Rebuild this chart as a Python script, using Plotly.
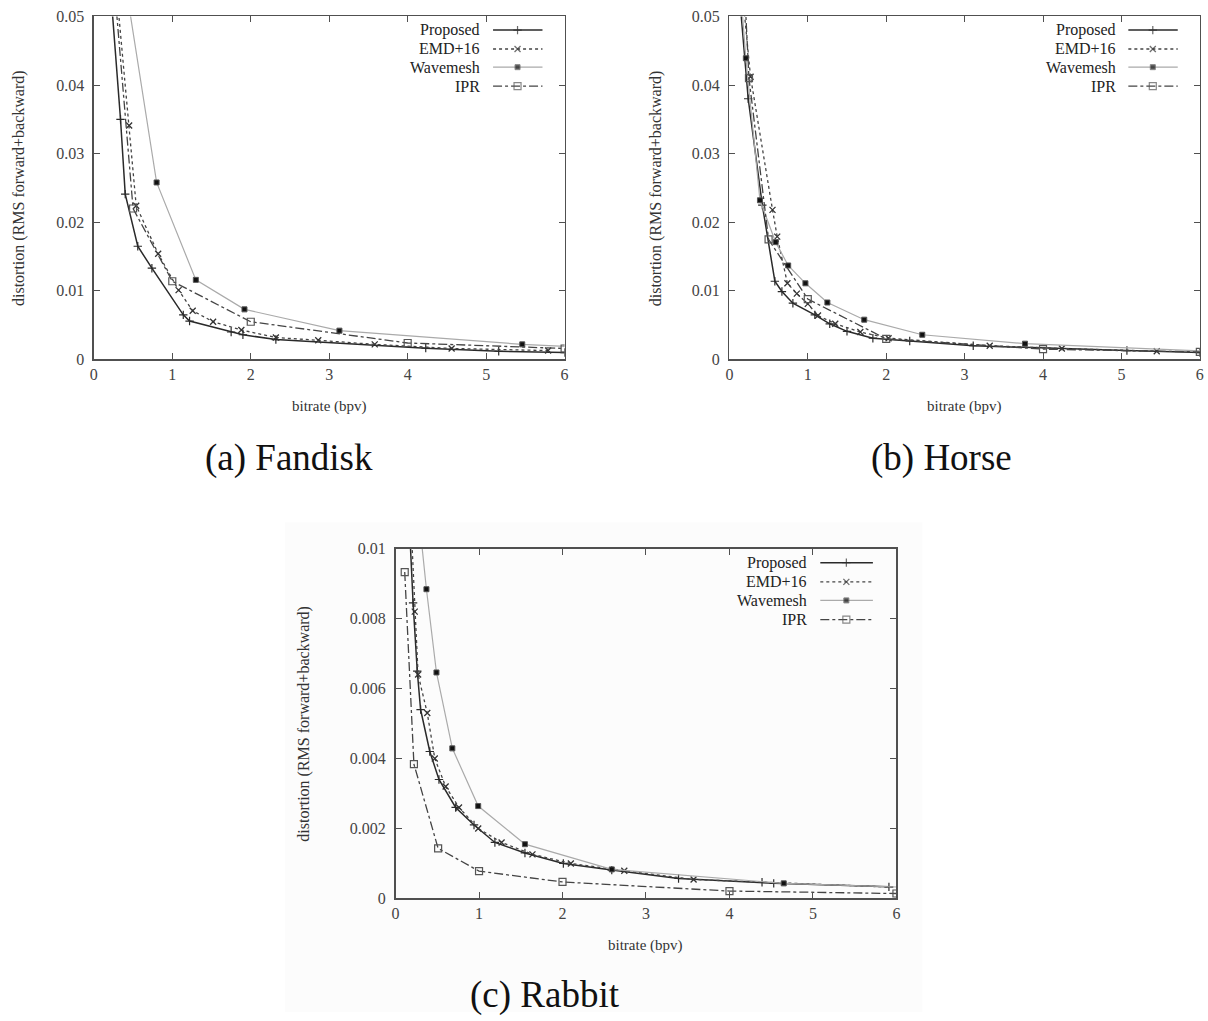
import plotly.graph_objects as go

W, H = 1208, 1021

# ---------------- data ----------------
series_names = ["Proposed", "EMD+16", "Wavemesh", "IPR"]
x_ticks = [0, 1, 2, 3, 4, 5, 6]

# (a) Fandisk
fan_prop_x = [0.14, 0.34, 0.40, 0.56, 0.74, 1.14, 1.22, 1.75, 1.90, 2.32, 4.23, 5.16, 6.0]
fan_prop_y = [0.065, 0.035, 0.0241, 0.0165, 0.0133, 0.0065, 0.0056, 0.0040, 0.0036, 0.0029, 0.00165, 0.0012, 0.0010]
fan_emd_x = [0.28, 0.45, 0.54, 0.82, 1.08, 1.26, 1.52, 1.88, 2.32, 2.86, 3.58, 4.56, 5.79]
fan_emd_y = [0.055, 0.0341, 0.0224, 0.0154, 0.0101, 0.0071, 0.0055, 0.0043, 0.0032, 0.0028, 0.0022, 0.0016, 0.0013]
fan_wave_x = [0.40, 0.80, 1.30, 1.92, 3.13, 5.46, 7.0]
fan_wave_y = [0.055, 0.0258, 0.0116, 0.0073, 0.0042, 0.0022, 0.0014]
fan_ipr_x = [0.25, 0.50, 1.0, 2.0, 4.0, 6.0]
fan_ipr_y = [0.056, 0.0220, 0.0114, 0.0055, 0.0024, 0.0016]

# (b) Horse
hor_prop_x = [0.10, 0.24, 0.42, 0.58, 0.67, 0.81, 1.09, 1.28, 1.50, 1.83, 2.30, 3.11, 5.07, 6.0]
hor_prop_y = [0.057, 0.0380, 0.0225, 0.0114, 0.0099, 0.0082, 0.0065, 0.0052, 0.0041, 0.0031, 0.0027, 0.0020, 0.0013, 0.0010]
hor_emd_x = [0.17, 0.27, 0.55, 0.61, 0.74, 0.86, 1.0, 1.13, 1.35, 1.67, 2.03, 3.32, 4.24, 5.45]
hor_emd_y = [0.053, 0.0412, 0.0218, 0.0179, 0.0111, 0.0096, 0.0081, 0.0064, 0.0052, 0.0040, 0.0031, 0.0020, 0.0016, 0.0012]
hor_wave_x = [0.10, 0.21, 0.39, 0.59, 0.75, 0.97, 1.25, 1.72, 2.46, 3.77, 7.0]
hor_wave_y = [0.060, 0.0439, 0.0232, 0.0171, 0.0137, 0.0111, 0.0083, 0.0058, 0.0036, 0.0023, 0.0008]
hor_ipr_x = [0.125, 0.25, 0.50, 1.0, 2.0, 4.0, 6.0]
hor_ipr_y = [0.070, 0.041, 0.0175, 0.0088, 0.0030, 0.0015, 0.0011]

# (c) Rabbit
rab_prop_x = [0.15, 0.21, 0.26, 0.30, 0.41, 0.52, 0.72, 0.94, 1.19, 1.55, 2.01, 2.59, 3.39, 4.39, 4.53, 5.91]
rab_prop_y = [0.0115, 0.00845, 0.0065, 0.0054, 0.0042, 0.0034, 0.0026, 0.0021, 0.0016, 0.0013, 0.0010, 0.00081, 0.00057, 0.00046, 0.00043, 0.00033]
rab_emd_x = [0.17, 0.23, 0.27, 0.38, 0.47, 0.60, 0.76, 0.99, 1.27, 1.64, 2.10, 2.74, 3.57, 6.2]
rab_emd_y = [0.0115, 0.0082, 0.0064, 0.0053, 0.0040, 0.0032, 0.0026, 0.0020, 0.0016, 0.00126, 0.00100, 0.00079, 0.00054, 0.00030]
rab_wave_x = [0.25, 0.37, 0.49, 0.68, 0.99, 1.55, 2.59, 4.65, 7.0]
rab_wave_y = [0.0116, 0.00884, 0.00646, 0.00429, 0.00264, 0.00155, 0.00083, 0.00043, 0.00025]
rab_ipr_x = [0.11, 0.22, 0.51, 1.0, 2.0, 4.0, 6.0]
rab_ipr_y = [0.00933, 0.00384, 0.00143, 0.00078, 0.00047, 0.00021, 0.00014]

panels = [
    dict(cap="(a) Fandisk", ymax=0.05, dtick=0.01,
         data=[(fan_prop_x, fan_prop_y), (fan_emd_x, fan_emd_y), (fan_wave_x, fan_wave_y), (fan_ipr_x, fan_ipr_y)]),
    dict(cap="(b) Horse", ymax=0.05, dtick=0.01,
         data=[(hor_prop_x, hor_prop_y), (hor_emd_x, hor_emd_y), (hor_wave_x, hor_wave_y), (hor_ipr_x, hor_ipr_y)]),
    dict(cap="(c) Rabbit", ymax=0.01, dtick=0.002,
         data=[(rab_prop_x, rab_prop_y), (rab_emd_x, rab_emd_y), (rab_wave_x, rab_wave_y), (rab_ipr_x, rab_ipr_y)]),
]

# ---------------- layout geometry (target pixels in the picture) ----------------
boxes = [  # x0, x1, ytop, ybottom
    (92.7, 563.3, 15.7, 359.0),
    (728.0, 1198.3, 15.7, 359.0),
    (394.3, 895.0, 548.3, 898.3),
]
ytitle_x = [18, 655, 302]
captions_px = [(288, 458), (940, 458), (544, 995)]

# calibration of the page -> picture mapping observed in earlier renders
SX, OX = 0.993, 2.9
SY, OY = 0.984, 7.3


def fx(px):  # picture x pixel -> paper fraction
    return ((px - OX) / SX) / W


def fy(py):  # picture y pixel -> paper fraction (from bottom)
    return 1 - ((py - OY) / SY) / H


FONT = "Liberation Serif, Times New Roman, serif"
AX = "#505050"

styles = [
    dict(line=dict(color="#2a2a2a", width=1.5, dash="solid"),
         marker=dict(symbol="cross-thin", size=6, color="#2a2a2a", line=dict(color="#2a2a2a", width=1.2))),
    dict(line=dict(color="#444444", width=1.3, dash="dot"),
         marker=dict(symbol="x-thin", size=6, color="#333333", line=dict(color="#333333", width=1.3))),
    dict(line=dict(color="#aaaaaa", width=1.2, dash="solid"),
         marker=dict(symbol="square", size=5, color="#111111", line=dict(color="#555555", width=1))),
    dict(line=dict(color="#444444", width=1.3, dash="dashdot"),
         marker=dict(symbol="square-open", size=7, color="#555555", line=dict(color="#555555", width=1.2))),
]

fig = go.Figure()
layout = dict(width=W, height=H, margin=dict(l=0, r=0, t=0, b=0),
              paper_bgcolor="white", plot_bgcolor="white", showlegend=False,
              font=dict(family=FONT, color="#333333"), hovermode=False)
annotations = []
shapes = [dict(type="rect", xref="paper", yref="paper", x0=fx(284), x1=fx(921),
               y0=0, y1=fy(522), fillcolor="#fcfcfc", line=dict(width=0), layer="below")]

leg_rows = [0.960, 0.905, 0.852, 0.797]
leg_x0, leg_xm, leg_x1, leg_tx = 0.848, 0.900, 0.953, 0.825

for i, (p, b) in enumerate(zip(panels, boxes)):
    n = i + 1
    xs = "" if n == 1 else str(n)
    x0, x1, yt, yb = b
    xd = [fx(x0), fx(x1)]
    yd = [fy(yb), fy(yt)]
    common = dict(showgrid=False, zeroline=False, showline=True, linecolor=AX, linewidth=1.5,
                  mirror="ticks", ticks="inside", ticklen=6, tickcolor=AX, tickwidth=1,
                  tickfont=dict(family=FONT, size=16, color="#444444"))
    layout["xaxis" + xs] = dict(domain=xd, range=[0, 6], tickvals=x_ticks, anchor="y" + xs, **common)
    layout["yaxis" + xs] = dict(domain=yd, range=[0, p["ymax"]], dtick=p["dtick"], tick0=0,
                                anchor="x" + xs, ticklabelstandoff=5, **common)
    # overlay axes for the legend key samples
    ln = str(n + 3)
    layout["xaxis" + ln] = dict(overlaying="x" + xs, anchor="y" + ln, range=[0, 1], visible=False)
    layout["yaxis" + ln] = dict(overlaying="y" + xs, anchor="x" + ln, range=[0, 1], visible=False)

    for k, ((dx, dy), st) in enumerate(zip(p["data"], styles)):
        fig.add_trace(go.Scatter(x=dx, y=dy, mode="lines+markers", name=series_names[k],
                                 line=st["line"], marker=st["marker"],
                                 xaxis="x" + xs, yaxis="y" + xs))
        r = leg_rows[k]
        mk = dict(st["marker"])
        fig.add_trace(go.Scatter(x=[leg_x0, leg_xm, leg_x1], y=[r, r, r], mode="lines+markers",
                                 line=st["line"], marker=dict(mk, size=[0, mk["size"], 0]),
                                 xaxis="x" + ln, yaxis="y" + ln, hoverinfo="skip"))
        annotations.append(dict(text=series_names[k], x=leg_tx, y=r,
                                xref="x" + xs + " domain", yref="y" + xs + " domain",
                                xanchor="right", yanchor="middle", showarrow=False,
                                font=dict(family=FONT, size=16, color="#222222")))

    # axis titles
    annotations.append(dict(text="bitrate (bpv)", x=fx((x0 + x1) / 2), y=fy(yb + 47),
                            xref="paper", yref="paper", showarrow=False, xanchor="center", yanchor="middle",
                            font=dict(family=FONT, size=15, color="#333333")))
    annotations.append(dict(text="distortion (RMS forward+backward)", x=fx(ytitle_x[i]), y=fy((yt + yb) / 2),
                            xref="paper", yref="paper", showarrow=False, textangle=-90,
                            xanchor="center", yanchor="middle",
                            font=dict(family=FONT, size=16, color="#333333")))
    cx, cy = captions_px[i]
    annotations.append(dict(text=p["cap"], x=fx(cx), y=fy(cy), xref="paper", yref="paper",
                            showarrow=False, xanchor="center", yanchor="middle",
                            font=dict(family=FONT, size=37, color="#111111")))

layout["annotations"] = annotations
layout["shapes"] = shapes
fig.update_layout(**layout)
fig.write_html("out.html",
               config={"displayModeBar": False, "staticPlot": True},
               post_script="document.documentElement.style.margin='0';"
                           "document.documentElement.style.overflow='hidden';"
                           "document.body.style.margin='0';"
                           "document.body.style.overflow='hidden';"
                           "var gd=document.getElementById('{plot_id}');"
                           "gd.style.position='fixed';gd.style.left='0px';gd.style.top='0px';")
